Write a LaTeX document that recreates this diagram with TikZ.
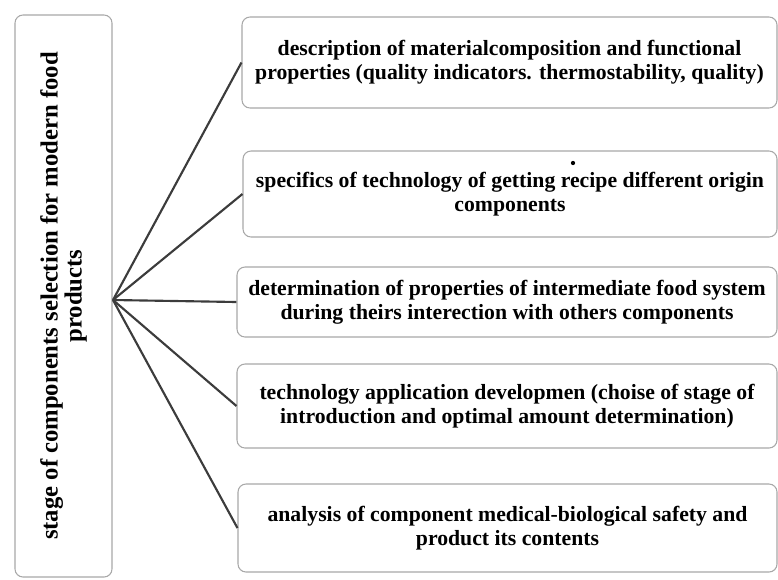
\documentclass[tikz,border=0pt]{standalone}
\usepackage{fontspec}
\setmainfont{Liberation Serif}
\definecolor{boxgray}{HTML}{A8A8A8}
\definecolor{linegray}{HTML}{3C3C3C}
\usetikzlibrary{positioning}

\begin{document}
\begin{tikzpicture}[x=0.75pt,y=-0.75pt,
  stagebox/.style={draw=boxgray,line width=0.8pt,rounded corners=6pt,
    font=\bfseries\fontsize{16.3}{18}\selectfont,align=center,inner sep=0pt},
  link/.style={draw=linegray,line width=1.6pt}]
  \useasboundingbox (0,0) rectangle (778,579);
  % stage box, text turned upward
  \node[stagebox,rotate=90,minimum width=421.5pt,minimum height=72.75pt,
    font=\bfseries\fontsize{18.5}{18}\selectfont]
    (stage) at (63.5,296) {stage of components selection for modern food\\products};
  \coordinate (hub) at (113,300);
  % component boxes
  \node[stagebox,minimum width=401.25pt,minimum height=68.25pt] (descr) at (509.5,62.5)
    {description of materialcomposition and functional\\properties (quality indicators. thermostability, quality)};
  \node[stagebox,minimum width=400.5pt,minimum height=64.5pt] (techn) at (510,194)
    {specifics of technology of getting recipe different origin\\components};
  \node[stagebox,minimum width=405pt,minimum height=52.5pt] (determ) at (507,302)
    {determination of properties of intermediate food system\\during theirs interection with others components};
  \node[stagebox,minimum width=405pt,minimum height=63pt] (appl) at (507,406)
    {technology application developmen (choise of stage of\\introduction and optimal amount determination)};
  \node[stagebox,minimum width=404.25pt,minimum height=66pt] (safety) at (507.5,528)
    {analysis of component medical-biological safety and\\product its contents};
  \fill (573,163) circle (1.6pt);
  % links from the hub
  \draw[link] (hub) -- (descr.west);
  \draw[link] (hub) -- (techn.west);
  \draw[link] (hub) -- (determ.west);
  \draw[link] (hub) -- (appl.west);
  \draw[link] (hub) -- (safety.west);
\end{tikzpicture}
\end{document}
